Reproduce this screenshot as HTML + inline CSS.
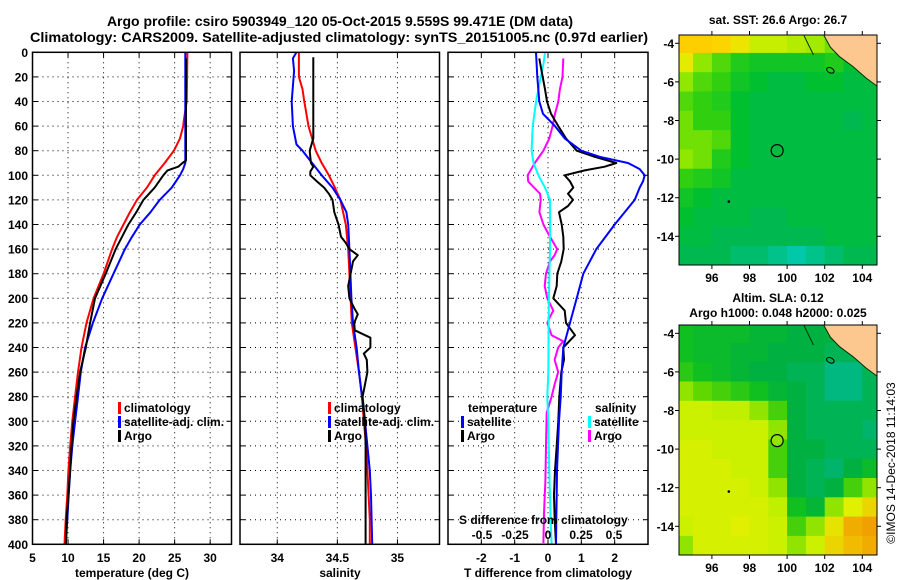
<!DOCTYPE html>
<html><head><meta charset="utf-8"><style>
html,body{margin:0;padding:0;background:#fff;}
svg{display:block;font-family:"Liberation Sans",Arial,sans-serif;font-weight:bold;}
</style></head><body>
<svg id="fig" width="900" height="580" viewBox="0 0 900 580" xmlns="http://www.w3.org/2000/svg">
<text x="340" y="26" font-size="14" text-anchor="middle">Argo profile: csiro 5903949_120 05-Oct-2015 9.559S 99.471E (DM data)</text>
<text x="339" y="42" font-size="14" text-anchor="middle" textLength="618" lengthAdjust="spacingAndGlyphs">Climatology: CARS2009. Satellite-adjusted climatology: synTS_20151005.nc (0.97d earlier)</text>
<text x="778" y="24" font-size="12" text-anchor="middle">sat. SST: 26.6 Argo: 26.7</text>
<text x="778" y="302" font-size="12" text-anchor="middle">Altim. SLA: 0.12</text>
<text x="778" y="317" font-size="12" text-anchor="middle">Argo h1000: 0.048 h2000: 0.025</text>
<text transform="translate(895,463) rotate(-90)" font-size="12" font-weight="normal" text-anchor="middle">©IMOS 14-Dec-2018 11:14:03</text>
</svg>
<script>
// ---- profile data ----
const depthTicks=[0,20,40,60,80,100,120,140,160,180,200,220,240,260,280,300,320,340,360,380,400];
const tTicks=[5,10,15,20,25,30];
const sTicks=[34,34.5,35];
const sTickLabels=['34','34.5','35'];
const dtTicks=[-2,-1,0,1,2];
const dsTicks=[-0.5,-0.25,0,0.25,0.5];
const dsTickLabels=['-0.5','-0.25','0','0.25','0.5'];

const depTClim=[0,40,55,60,70,80,90,100,110,120,130,140,150,160,180,200,220,240,260,280,300,320,340,360,380,400];
const tClim=[26.8,26.7,26.3,26.2,25.75,24.9,23.6,22.2,21.1,19.7,18.7,17.8,16.9,16.2,15.0,13.6,12.6,11.9,11.4,11.0,10.6,10.3,10.05,9.9,9.67,9.5];
const depTSat=[0,90,95,100,110,120,130,140,150,160,180,200,220,240,260,280,300,320,340,360,380,400];
const tSat=[26.5,26.5,26.2,25.75,24.6,22.9,21.6,20.1,19.0,18.0,16.4,14.8,13.5,12.4,11.8,11.4,11.0,10.6,10.3,10.1,9.9,9.7];
const depTArgo=[5,88,90,93,96,100,110,120,130,140,150,160,180,200,220,240,260,280,300,320,340,360,380,400];
const tArgo=[26.6,26.6,26.1,25.5,24.0,23.4,22.2,20.6,19.6,18.5,17.6,16.7,15.3,13.8,13.1,12.5,11.7,11.2,10.75,10.5,10.3,10.05,9.8,9.7];

const depSClim=[0,20,30,40,60,70,80,90,100,110,120,140,160,180,200,220,240,260,280,300,320,340,360,380,400];
const sClim=[34.18,34.18,34.21,34.225,34.26,34.29,34.32,34.37,34.43,34.48,34.525,34.57,34.59,34.60,34.61,34.62,34.65,34.68,34.705,34.72,34.74,34.75,34.76,34.77,34.77];
const depSSat=[0,5,15,40,60,75,80,90,100,110,120,130,140,160,200,220,240,260,280,300,320,340,360,380,400];
const sSat=[34.16,34.13,34.14,34.12,34.13,34.16,34.21,34.29,34.37,34.46,34.525,34.575,34.59,34.6,34.617,34.63,34.66,34.68,34.705,34.73,34.75,34.77,34.78,34.785,34.79];
const depSArgo=[4,70,80,90,93,97,100,105,110,115,120,130,140,150,155,160,165,170,180,190,200,208,213,220,226,232,240,245,250,260,270,280,290,300,320,340,360,380,400];
const sArgo=[34.30,34.30,34.27,34.28,34.30,34.275,34.275,34.33,34.39,34.43,34.46,34.475,34.51,34.53,34.57,34.60,34.67,34.63,34.61,34.59,34.60,34.64,34.67,34.64,34.645,34.775,34.775,34.72,34.745,34.75,34.73,34.71,34.72,34.73,34.735,34.735,34.735,34.735,34.735];

const depDTSat=[0,20,40,50,60,70,80,85,90,95,100,105,110,120,140,160,180,200,220,240,260,280,300,320,340,360,380,400];
const dtSat=[-0.36,-0.32,-0.26,-0.15,0.21,0.5,1.0,1.55,2.4,2.75,2.9,2.85,2.75,2.6,2.0,1.45,1.06,0.86,0.66,0.46,0.41,0.38,0.33,0.3,0.27,0.26,0.25,0.24];
const depDTArgo=[5,20,30,40,50,60,70,80,85,90,93,96,100,105,110,115,120,125,130,140,150,160,170,180,190,200,210,220,230,240,250,260,280,300,320,340,360,380,400];
const dtArgo=[-0.26,-0.16,-0.09,-0.03,0.09,0.31,0.54,0.86,1.4,2.05,1.7,1.1,0.5,0.66,0.76,0.6,0.75,0.6,0.33,0.41,0.46,0.47,0.4,0.28,0.26,0.16,0.5,0.54,0.81,0.46,0.48,0.4,0.34,0.31,0.26,0.21,0.18,0.2,0.24];
const depDSSat=[0,10,20,40,60,80,90,100,110,120,160,200,260,280,300,340,380,400];
const dsSat=[-0.023,-0.035,-0.055,-0.09,-0.116,-0.124,-0.11,-0.073,-0.023,0.015,0.015,0.007,0.002,-0.005,0.002,0.01,0.02,0.027];
const depDSArgo=[5,20,30,40,50,60,70,80,90,100,105,110,115,120,130,140,150,160,165,170,180,190,200,210,215,220,230,235,240,250,260,270,280,293,321,348,375,399];
const dsArgo=[0.116,0.11,0.09,0.078,0.053,0.035,0.01,-0.035,-0.1,-0.154,-0.15,-0.106,-0.06,-0.055,-0.065,-0.035,0.015,0.07,0.05,0.015,-0.015,-0.025,-0.005,0.04,0.015,-0.005,0.027,0.115,0.077,0.05,0.077,0.05,0.027,-0.01,-0.015,-0.02,-0.03,-0.035];

// ---- map data (1 degree cells, lon 94..105, rows lat -4..-15) ----
const mapLonStart=94;
const mapLatStart=-3.5;
const lonTicks=[96,98,100,102,104];
const latTicks=[-4,-6,-8,-10,-12,-14];
const argoLon=99.471, argoLat=-9.559;
const sstGrid=[
[28.3,28.3,28.2,27.9,27.6,27.6,27.5,27.4,27.2,26.7,26.7],
[27.8,27.3,27.1,26.9,26.8,26.8,26.8,26.8,26.9,26.7,26.6],
[27.3,27.1,27.0,26.8,26.7,26.6,26.6,26.7,26.7,26.6,26.6],
[27.1,27.0,26.9,26.7,26.6,26.6,26.6,26.6,26.6,26.6,26.6],
[27.2,27.0,27.0,26.7,26.6,26.6,26.6,26.6,26.6,26.5,26.6],
[27.2,27.2,27.1,26.7,26.6,26.6,26.6,26.6,26.6,26.6,26.6],
[27.3,27.2,26.9,26.7,26.6,26.6,26.6,26.6,26.6,26.6,26.6],
[27.0,26.9,26.8,26.6,26.6,26.6,26.6,26.6,26.6,26.6,26.6],
[26.8,26.7,26.6,26.6,26.6,26.6,26.6,26.6,26.6,26.6,26.6],
[26.7,26.6,26.6,26.6,26.5,26.5,26.6,26.6,26.6,26.6,26.6],
[26.6,26.6,26.5,26.5,26.5,26.5,26.5,26.5,26.6,26.6,26.6],
[26.5,26.5,26.5,26.4,26.4,26.3,26.2,26.3,26.4,26.5,26.5]];
const slaGrid=[
[.08,.07,.07,.07,.06,.06,.05,.05,.05,.05,.05],
[.08,.07,.07,.06,.06,.05,.05,.05,.04,.04,.05],
[.09,.08,.07,.06,.05,.05,.04,.04,.02,.02,.04],
[.12,.11,.10,.09,.08,.06,.05,.04,.02,.02,.04],
[.14,.14,.13,.13,.12,.10,.05,.04,.04,.04,.04],
[.14,.14,.14,.14,.14,.12,.05,.04,.04,.04,.03],
[.15,.15,.14,.14,.14,.10,.05,.05,.04,.04,.04],
[.15,.15,.15,.14,.14,.10,.05,.04,.03,.05,.07],
[.15,.15,.15,.15,.14,.12,.05,.04,.05,.10,.12],
[.15,.15,.15,.15,.15,.13,.08,.06,.12,.16,.18],
[.14,.15,.15,.16,.15,.14,.10,.12,.17,.21,.22],
[.12,.15,.15,.15,.15,.14,.12,.14,.18,.20,.21]];
const slaArgo=0.12;

const NS='http://www.w3.org/2000/svg';
const svg=document.getElementById('fig');
function mk(tag,attrs,parent){const e=document.createElementNS(NS,tag);for(const k in attrs)e.setAttribute(k,attrs[k]);(parent||svg).appendChild(e);return e;}

const TOP=52.3, BOT=544.3;
const yD=d=>TOP+d*(BOT-TOP)/400;

function panel(name,x0,x1,xmin,xmax){
  const xs=v=>x0+(v-xmin)*(x1-x0)/(xmax-xmin);
  const g=mk('g',{});
  
  
  return {xs,g,x0,x1};
}
function grid(p,xt){
  depthTicks.forEach(d=>{if(d>0&&d<400){const l=mk('line',{x1:p.x0,x2:p.x1,y1:yD(d),y2:yD(d),stroke:'#000','stroke-width':1,'stroke-dasharray':'1 4'},p.g);
    }
    mk('line',{x1:p.x0,x2:p.x0+5,y1:yD(d),y2:yD(d),stroke:'#000'},p.g);mk('line',{x1:p.x1-5,x2:p.x1,y1:yD(d),y2:yD(d),stroke:'#000'},p.g);});
  xt.forEach(v=>{const x=p.xs(v);const l=mk('line',{x1:x,x2:x,y1:TOP,y2:BOT,stroke:'#000','stroke-width':1,'stroke-dasharray':'1 4'},p.g);
    
    mk('line',{x1:x,x2:x,y1:BOT-5,y2:BOT,stroke:'#000'},p.g);mk('line',{x1:x,x2:x,y1:TOP,y2:TOP+5,stroke:'#000'},p.g);});
}
function frame(p){const r=mk('rect',{x:p.x0,y:TOP,width:p.x1-p.x0,height:BOT-TOP,fill:'none',stroke:'#000','stroke-width':1.5},p.g);
  }
function series(p,deps,vals,color,w,name,scale){
  const xs=scale||p.xs;
  const pts=deps.map((d,i)=>xs(vals[i]).toFixed(1)+','+yD(d).toFixed(1)).join(' ');
  const l=mk('polyline',{points:pts,fill:'none',stroke:color,'stroke-width':w,'stroke-linejoin':'round'},p.g);
  
  
}
function txt(s,x,y,anchor,size,parent,name){const t=mk('text',{x:x,y:y,'text-anchor':anchor,'font-size':size},parent);t.textContent=s;
  return t;}
function legend(p,x,y,items){items.forEach((it,i)=>{const yy=y+i*14;
  const b=mk('rect',{x:x,y:yy-10,width:3,height:12,fill:it[1]},p.g);
  txt(it[0],x+6,yy,'start',12,p.g,'legend-entry');});}

// Panel 1 temperature
const p1=panel('temperature-panel',32.5,231.5,5,33);
grid(p1,tTicks);
series(p1,depTClim,tClim,'#ff0000',2,'temp-climatology-line');
series(p1,depTSat,tSat,'#0000ff',2,'temp-satellite-line');
series(p1,depTArgo,tArgo,'#000000',2,'temp-argo-line');
frame(p1);
depthTicks.forEach(d=>txt(String(d),28,yD(d)+4.5,'end',12,p1.g,'depth-tick-label'));
tTicks.forEach(v=>txt(String(v),p1.xs(v),562,'middle',12,p1.g,'temp-tick-label'));
txt('temperature (deg C)',132,577,'middle',12,p1.g,'temp-axis-title');
legend(p1,118,412,[['climatology','#ff0000'],['satellite-adj. clim.','#0000ff'],['Argo','#000000']]);

// Panel 2 salinity
const p2=panel('salinity-panel',240,439.5,33.69,35.35);
grid(p2,sTicks);
series(p2,depSClim,sClim,'#ff0000',2,'sal-climatology-line');
series(p2,depSSat,sSat,'#0000ff',2,'sal-satellite-line');
series(p2,depSArgo,sArgo,'#000000',2,'sal-argo-line');
frame(p2);
sTicks.forEach((v,i)=>txt(sTickLabels[i],p2.xs(v),562,'middle',12,p2.g,'sal-tick-label'));
txt('salinity',340,577,'middle',12,p2.g,'sal-axis-title');
legend(p2,328,412,[['climatology','#ff0000'],['satellite-adj. clim.','#0000ff'],['Argo','#000000']]);

// Panel 3 differences
const p3=panel('difference-panel',448,648,-3,3);
const xsS=v=>548+v*132;
grid(p3,dtTicks);
series(p3,depDSArgo,dsArgo,'#ff00ff',2,'sdiff-argo-line',xsS);
series(p3,depDSSat,dsSat,'#00ffff',2,'sdiff-satellite-line',xsS);
series(p3,depDTArgo,dtArgo,'#000000',2,'tdiff-argo-line');
series(p3,depDTSat,dtSat,'#0000ff',2,'tdiff-satellite-line');
frame(p3);
dtTicks.forEach(v=>txt(String(v),p3.xs(v),562,'middle',12,p3.g,'tdiff-tick-label'));
txt('T difference from climatology',548,577,'middle',12,p3.g,'tdiff-axis-title');
txt('S difference from climatology',459,524,'start',12,p3.g,'sdiff-axis-title');
dsTicks.forEach((v,i)=>txt(dsTickLabels[i],xsS(v),539,'middle',12,p3.g,'sdiff-tick-label'));
txt('temperature',468,412,'start',12,p3.g,'legend-heading-temperature');
legend(p3,461,426,[['satellite','#0000ff'],['Argo','#000000']]);
txt('salinity',595,412,'start',12,p3.g,'legend-heading-salinity');
legend(p3,588,426,[['satellite','#00ffff'],['Argo','#ff00ff']]);

// ---- maps ----
function hex(c){return [parseInt(c.slice(1,3),16),parseInt(c.slice(3,5),16),parseInt(c.slice(5,7),16)];}
function cmap(stops,v){if(v<=stops[0][0])return stops[0][1];
  for(let i=1;i<stops.length;i++){if(v<=stops[i][0]){const t=(v-stops[i-1][0])/(stops[i][0]-stops[i-1][0]);
    const a=hex(stops[i-1][1]),b=hex(stops[i][1]);return 'rgb('+a.map((x,k)=>Math.round(x+(b[k]-x)*t)).join(',')+')';}}
  return stops[stops.length-1][1];}
const sstStops=[[26.2,'#00c8a8'],[26.5,'#00b850'],[26.7,'#00c030'],[27.0,'#30d010'],[27.3,'#90e800'],[27.7,'#d8f000'],[28.0,'#f8e000'],[28.4,'#ffc800']];
const slaStops=[[0.02,'#00b880'],[0.05,'#00b040'],[0.08,'#10c020'],[0.11,'#60d800'],[0.13,'#c0f000'],[0.16,'#e0f000'],[0.19,'#f0c800'],[0.22,'#f0a000']];

function drawMap(name,top,gridData,stops,fillCircle){
  const L=679,R=877,H=230;
  const lonX=lon=>L+(lon-94.25)*18.8;
  const latY=lat=>top+(-3.57-lat)*19.3;
  const g=mk('g',{});
  
  
  const cid='clip'+name;
  const cp=mk('clipPath',{id:cid},g);mk('rect',{x:L,y:top,width:R-L,height:H},cp);
  const cg=mk('g',{'clip-path':'url(#'+cid+')'},g);
  gridData.forEach((row,j)=>row.forEach((v,i)=>{
    const x=lonX(mapLonStart+i),y=latY(mapLatStart-j);
    const c=mk('rect',{x:x.toFixed(1),y:y.toFixed(1),width:19.3,height:19.8,fill:cmap(stops,v)},cg);
    
    
  }));
  const landPts=[[101.85,-3.4],[102.3,-4.2],[102.8,-4.7],[103.5,-5.2],[104.2,-5.8],[104.9,-6.3],[104.9,-3.4]];
  const land=mk('polygon',{points:landPts.map(p=>lonX(p[0])+','+latY(p[1])).join(' '),fill:'#fcc890',stroke:'#003000','stroke-width':1},cg);
  
  mk('polyline',{points:[[100.9,-3.6],[101.2,-4.2],[101.4,-4.6]].map(p=>lonX(p[0])+','+latY(p[1])).join(' '),fill:'none',stroke:'#003000','stroke-width':1},cg);
  const isl=mk('ellipse',{cx:lonX(102.3),cy:latY(-5.4),rx:4,ry:2.5,fill:'none',stroke:'#000','stroke-width':1,transform:'rotate(25 '+lonX(102.3)+' '+latY(-5.4)+')'},cg);
  
  mk('circle',{cx:lonX(96.9),cy:latY(-12.2),r:1.3,fill:'#000'},cg);
  const ci=mk('circle',{cx:lonX(argoLon),cy:latY(argoLat),r:6,fill:fillCircle||'none',stroke:'#000','stroke-width':1.2},g);
  
  const fr=mk('rect',{x:L,y:top,width:R-L,height:H,fill:'none',stroke:'#000','stroke-width':1},g);
  
  lonTicks.forEach(v=>{const x=lonX(v);mk('line',{x1:x,x2:x,y1:top+H,y2:top+H+4,stroke:'#000'},g);mk('line',{x1:x,x2:x,y1:top-4,y2:top,stroke:'#000'},g);
    txt(String(v),x,top+H+17,'middle',12,g,'lon-tick-label');});
  latTicks.forEach(v=>{const y=latY(v);mk('line',{x1:L-4,x2:L,y1:y,y2:y,stroke:'#000'},g);mk('line',{x1:R,x2:R+4,y1:y,y2:y,stroke:'#000'},g);
    txt(String(v),L-5,y+4.5,'end',12,g,'lat-tick-label');});
}
drawMap('sst-map',35,sstGrid,sstStops,null);
drawMap('sla-map',325,slaGrid,slaStops,cmap(slaStops,slaArgo));
</script>
</body></html>
